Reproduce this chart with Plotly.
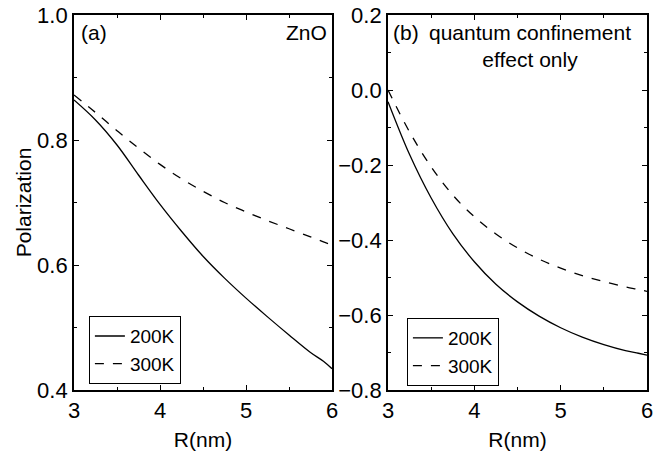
import plotly.graph_objects as go
from plotly.subplots import make_subplots

R = [3.0, 3.25, 3.5, 3.75, 4.0, 4.25, 4.5, 4.75, 5.0, 5.25, 5.5, 5.75, 5.9, 6.0]
a_200K = [0.864, 0.832, 0.792, 0.744, 0.697, 0.654, 0.614, 0.579, 0.547, 0.517, 0.488, 0.460, 0.446, 0.434]
a_300K = [0.872, 0.844, 0.815, 0.787, 0.761, 0.738, 0.718, 0.700, 0.685, 0.671, 0.658, 0.645, 0.637, 0.632]
b_200K = [-0.031, -0.172, -0.288, -0.383, -0.458, -0.518, -0.565, -0.603, -0.634, -0.659, -0.679, -0.695, -0.702, -0.707]
b_300K = [0.000, -0.112, -0.205, -0.280, -0.338, -0.384, -0.421, -0.451, -0.475, -0.495, -0.511, -0.525, -0.532, -0.537]

FONT = "Arial, Liberation Sans, sans-serif"

fig = make_subplots(rows=1, cols=2, horizontal_spacing=0.0)

line_w = 1.3
fig.add_trace(go.Scatter(x=R, y=a_200K, mode="lines", name="200K", line=dict(color="black", width=line_w, shape="spline"), legend="legend"), row=1, col=1)
fig.add_trace(go.Scatter(x=R, y=a_300K, mode="lines", name="300K", line=dict(color="black", width=line_w, dash="dash", shape="spline"), legend="legend"), row=1, col=1)
fig.add_trace(go.Scatter(x=R, y=b_200K, mode="lines", name="200K", line=dict(color="black", width=line_w, shape="spline"), legend="legend2"), row=1, col=2)
fig.add_trace(go.Scatter(x=R, y=b_300K, mode="lines", name="300K", line=dict(color="black", width=line_w, dash="dash", shape="spline"), legend="legend2"), row=1, col=2)

axis_common = dict(
    showline=True, linecolor="black", linewidth=1.8, mirror="allticks",
    ticks="inside", ticklen=5, tickwidth=1, tickcolor="black",
    showgrid=False, zeroline=False, automargin=False,
    tickfont=dict(family=FONT, size=22, color="black"),
    minor=dict(ticks="inside", ticklen=3, tickwidth=1, tickcolor="black", showgrid=False),
)

fig.update_xaxes(range=[3, 6], dtick=1, tick0=3, title=dict(text="R(nm)", font=dict(family=FONT, size=21, color="black"), standoff=10), **axis_common)
fig.update_xaxes(minor_dtick=0.5)
fig.update_yaxes(**axis_common)
fig.update_yaxes(range=[0.4, 1.0], dtick=0.2, tick0=0.4, tickformat=".1f", minor_dtick=0.1,
                 title=dict(text="Polarization", font=dict(family=FONT, size=21, color="black"), standoff=0), row=1, col=1)
fig.update_yaxes(range=[-0.8, 0.2], dtick=0.2, tick0=-0.8, tickformat=".1f", minor_dtick=0.1, row=1, col=2)

leg_common = dict(xanchor="left", yanchor="top", bordercolor="black", borderwidth=1,
                  bgcolor="white", font=dict(family=FONT, size=19, color="black"), tracegroupgap=0,
                  entrywidth=60, entrywidthmode="pixels",
                  xref="paper", yref="paper")

fig.update_layout(
    width=672, height=458,
    margin=dict(l=74, r=25, t=15, b=68),
    paper_bgcolor="white", plot_bgcolor="white",
    xaxis=dict(domain=[0.0, 0.4503]),
    xaxis2=dict(domain=[0.548, 1.0]),
    legend=dict(x=0.026, y=0.197, **leg_common),
    legend2=dict(x=0.581, y=0.192, **leg_common),
    annotations=[
        dict(text="(a)", x=0.008, y=0.99, xref="paper", yref="paper", xanchor="left", yanchor="top", showarrow=False,
             font=dict(family=FONT, size=21, color="black")),
        dict(text="ZnO", x=0.445, y=0.99, xref="paper", yref="paper", xanchor="right", yanchor="top", showarrow=False,
             font=dict(family=FONT, size=21, color="black")),
        dict(text="(b)", x=0.554, y=0.99, xref="paper", yref="paper", xanchor="left", yanchor="top", showarrow=False,
             font=dict(family=FONT, size=21, color="black")),
        dict(text="quantum confinement<br>effect only", x=0.796, y=0.99, xref="paper", yref="paper", xanchor="center", yanchor="top",
             showarrow=False, align="center", font=dict(family=FONT, size=21, color="black")),
    ],
    showlegend=True,
)

fig.write_html("out.html", config={"displayModeBar": False},
               post_script="document.body.style.margin='0';document.body.style.padding='0';")
